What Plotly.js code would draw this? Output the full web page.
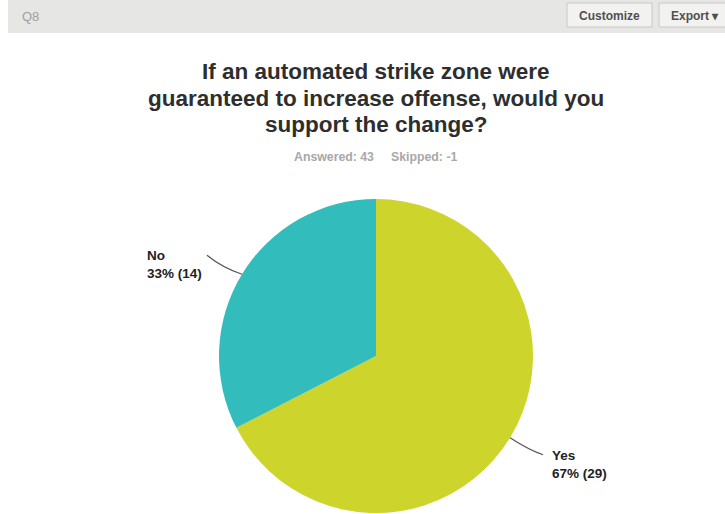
<!DOCTYPE html>
<html>
<head>
<meta charset="utf-8">
<script src="https://cdn.plot.ly/plotly-3.0.1.min.js"></script>
<style>html,body{margin:0;padding:0;background:#fff;}#chart{width:725px;height:514px;}</style>
</head>
<body>
<div id="chart"></div>
<script>
// Data
const labels = ["Yes", "No"];
const counts = [29, 14];
const colors = ["#cdd42b", "#33bcbc"];
const answered = 43;
const skipped = -1;
const questionId = "Q8";
const titleLines = ["If an automated strike zone were", "guaranteed to increase offense, would you", "support the change?"];

const W = 725, H = 514;
const px = x => x / W;
const py = y => 1 - y / H;

// pie geometry (pixels)
const cx = 376, cy = 356, R = 157;
const total = counts.reduce((a, b) => a + b, 0);

const annotations = [];
const shapes = [];
const FONT = "Liberation Sans, Arial";

// header band
shapes.push({type: "rect", xref: "paper", yref: "paper", x0: px(8), x1: px(725), y0: py(0), y1: py(33),
  fillcolor: "#e6e6e5", line: {width: 0}, layer: "below"});
// buttons
shapes.push({type: "rect", xref: "paper", yref: "paper", x0: px(567), x1: px(652), y0: py(3), y1: py(27),
  fillcolor: "#f2f2f1", line: {color: "#c8c8c6", width: 1}});
shapes.push({type: "rect", xref: "paper", yref: "paper", x0: px(659), x1: px(728), y0: py(3), y1: py(27),
  fillcolor: "#f2f2f1", line: {color: "#c8c8c6", width: 1}});
annotations.push({xref: "paper", yref: "paper", x: px(20), y: py(16), xanchor: "left", yanchor: "middle",
  text: questionId, showarrow: false, font: {family: FONT, size: 13, color: "#a0a0a0"}});
annotations.push({xref: "paper", yref: "paper", x: px(609.5), y: py(15.5), xanchor: "center", yanchor: "middle",
  text: "<b>Customize</b>", showarrow: false, font: {family: FONT, size: 12, color: "#505050"}});
annotations.push({xref: "paper", yref: "paper", x: px(669), y: py(15.5), xanchor: "left", yanchor: "middle",
  text: "<b>Export ▾</b>", showarrow: false, font: {family: FONT, size: 12, color: "#505050"}});

// title lines
titleLines.forEach((t, i) => {
  annotations.push({xref: "paper", yref: "paper", x: px(376), y: py(72 + 26 * i), xanchor: "center", yanchor: "middle",
    text: "<b>" + t + "</b>", showarrow: false, font: {family: FONT, size: 22.5, color: "#2e2e2e"}});
});

// subtitle
annotations.push({xref: "paper", yref: "paper", x: px(375), y: py(157), xanchor: "center", yanchor: "middle",
  text: "<b>Answered: " + answered + "&nbsp;&nbsp;&nbsp;&nbsp;&nbsp;Skipped: " + skipped + "</b>", showarrow: false,
  font: {family: FONT, size: 12.3, color: "#a8a8a8"}});

// slice labels with leader lines, positioned from slice mid-angles
let cum = 0;
counts.forEach((v, i) => {
  const frac = v / total;
  const mid = (cum + frac / 2) * 2 * Math.PI; // clockwise from top
  cum += frac;
  const dx = Math.sin(mid), dy = -Math.cos(mid);
  const ex = cx + dx * R, ey = cy + dy * R;
  const right = dx >= 0;
  const tx = ex + (right ? 33 : -35);
  const ty = ey + (right ? 17 : -19);
  shapes.push({type: "path", xref: "paper", yref: "paper",
    path: "M " + px(ex) + " " + py(ey) + " Q " + px((ex + tx) / 2 + (right ? 3 : -2)) + " " + py((ey + ty) / 2 + (right ? 4 : 3)) + " " + px(tx) + " " + py(ty),
    line: {color: "#555", width: 1.2}});
  const pct = Math.round(frac * 100);
  annotations.push({xref: "paper", yref: "paper", x: px(tx + (right ? 7 : -3)), y: py(ty - 9),
    xanchor: right ? "left" : "right", yanchor: "top", align: "left", showarrow: false,
    text: "<b>" + labels[i] + "<br>" + pct + "% (" + v + ")</b>",
    font: {family: FONT, size: 13.5, color: "#222"}});
});

const data = [{
  type: "pie",
  labels: labels,
  values: counts,
  sort: false,
  direction: "clockwise",
  rotation: 0,
  marker: {colors: colors, line: {width: 0}},
  textinfo: "none",
  hoverinfo: "label+percent+value",
  showlegend: false,
  domain: {x: [px(cx - R), px(cx + R)], y: [py(cy + R), py(cy - R)]}
}];

const layout = {
  width: W, height: H,
  margin: {l: 0, r: 0, t: 0, b: 0},
  paper_bgcolor: "#ffffff",
  shapes: shapes,
  annotations: annotations
};

Plotly.newPlot("chart", data, layout, {displayModeBar: false, staticPlot: true});
</script>
</body>
</html>
